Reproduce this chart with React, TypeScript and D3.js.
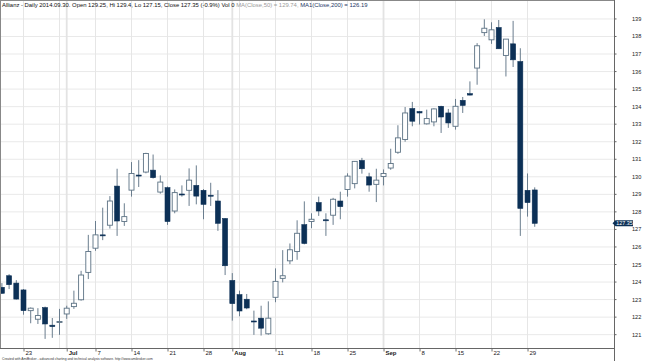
import React from 'react';
import * as d3 from 'd3';

const juneDays = [18, 19, 20, 23, 24, 25, 26, 27, 30];
const julyDays = [1, 2, 3, 4, 7, 8, 9, 10, 11, 14, 15, 16, 17, 18, 21, 22, 23, 24, 25, 28, 29, 30, 31];
const augDays = [1, 4, 5, 6, 7, 8, 11, 12, 13, 14, 15, 18, 19, 20, 21, 22, 25, 26, 27, 28, 29];
const sepDays = [1, 2, 3, 4, 5, 8, 9, 10, 11, 12, 15, 16, 17, 18, 19, 22, 23, 24, 25, 26, 29, 30];

const opens = [
  123.70, 124.36, 123.94, 123.55, 122.37, 121.88, 122.54, 121.54, 121.73, 122.18,
  122.60, 122.99, 124.55, 125.93, 126.69, 127.24, 129.47, 127.45, 129.24, 130.10,
  130.27, 130.38, 129.13, 129.38, 128.05, 129.02, 129.23, 129.51, 129.23, 128.95,
  128.62, 127.62, 124.09, 123.28, 123.02, 121.78, 121.94, 121.05, 123.13, 124.21,
  125.21, 125.74, 127.27, 127.45, 128.53, 127.55, 127.81, 128.62, 129.28, 129.61,
  130.93, 130.00, 129.57, 130.02, 130.50, 131.40, 132.13, 133.89, 133.72, 133.02,
  133.13, 134.02, 133.64, 132.88, 134.36, 134.74, 136.20, 138.22, 137.81, 138.51,
  136.92, 137.58, 136.57, 129.23, 129.25,
];
const highs = [
  123.94, 124.45, 124.11, 123.60, 122.55, 122.51, 122.60, 121.95, 122.47, 122.65,
  123.51, 124.64, 126.69, 127.48, 128.24, 128.90, 130.46, 128.49, 130.84, 130.95,
  131.37, 131.27, 130.08, 129.45, 129.28, 129.51, 130.48, 130.65, 129.30, 129.66,
  129.24, 127.65, 124.51, 123.51, 123.32, 122.37, 122.65, 122.90, 124.78, 125.82,
  126.20, 127.52, 128.60, 127.92, 128.87, 127.92, 128.80, 129.15, 130.20, 130.90,
  131.08, 130.23, 130.46, 130.42, 131.60, 132.94, 133.98, 134.27, 133.75, 133.83,
  133.90, 134.05, 133.87, 134.44, 134.55, 135.44, 137.62, 138.98, 138.81, 138.94,
  137.85, 138.89, 137.33, 130.19, 129.40,
];
const lows = [
  123.32, 123.60, 123.00, 122.14, 121.65, 121.61, 120.76, 120.82, 120.99, 121.90,
  122.47, 122.94, 124.17, 125.78, 126.39, 127.05, 126.63, 127.20, 128.87, 129.42,
  130.20, 129.90, 129.04, 127.26, 127.92, 128.87, 128.34, 128.43, 127.58, 128.34,
  126.92, 124.40, 121.80, 122.05, 122.45, 120.99, 120.95, 121.00, 122.85, 123.98,
  125.02, 125.27, 126.15, 127.07, 127.77, 126.63, 127.26, 127.58, 128.87, 129.34,
  130.18, 129.15, 128.56, 129.51, 130.40, 131.31, 132.00, 132.88, 132.98, 132.98,
  132.88, 132.50, 132.79, 132.69, 133.64, 134.64, 135.25, 138.03, 137.58, 137.30,
  135.72, 136.26, 126.63, 127.73, 127.15,
];
const closes = [
  123.36, 123.85, 123.03, 122.37, 122.51, 122.09, 121.61, 121.46, 121.75, 122.51,
  122.79, 124.40, 125.74, 126.69, 126.65, 128.62, 127.48, 127.73, 130.19, 130.06,
  131.33, 129.95, 129.70, 127.45, 129.10, 128.98, 129.81, 128.90, 128.43, 128.93,
  127.35, 124.93, 122.77, 122.35, 122.52, 121.76, 121.37, 121.94, 124.04, 124.36,
  125.84, 126.78, 126.20, 127.58, 128.05, 127.53, 128.72, 128.30, 130.04, 130.88,
  130.46, 129.53, 129.81, 130.19, 130.76, 132.22, 133.64, 133.17, 133.64, 133.32,
  133.87, 133.41, 133.07, 134.02, 134.07, 134.66, 137.47, 138.47, 138.38, 137.30,
  137.85, 136.67, 128.20, 128.53, 127.35,
];

const priceTicks = [121, 122, 123, 124, 125, 126, 127, 128, 129, 130, 131, 132, 133, 134, 135, 136, 137, 138, 139];
const dateLabels: [string, string, boolean][] = [
  ['2014-06-23', '23', false],
  ['2014-07-01', 'Jul', true],
  ['2014-07-07', '7', false],
  ['2014-07-14', '14', false],
  ['2014-07-21', '21', false],
  ['2014-07-28', '28', false],
  ['2014-08-01', 'Aug', true],
  ['2014-08-11', '11', false],
  ['2014-08-18', '18', false],
  ['2014-08-25', '25', false],
  ['2014-09-01', 'Sep', true],
  ['2014-09-08', '8', false],
  ['2014-09-15', '15', false],
  ['2014-09-22', '22', false],
  ['2014-09-29', '29', false],
];
const lastPrice = 127.35;
const titleMain = 'Allianz - Daily 2014.09.30. Open 129.25, Hi 129.4, Lo 127.15, Close 127.35 (-0.9%) Vol 0 ';
const titleMA50 = 'MA(Close,50) = 129.74, ';
const titleMA200 = 'MA1(Close,200) = 126.19';
const footer = 'Created with AmiBroker - advanced charting and technical analysis software. http://www.amibroker.com';

const pad = (n: number) => (n < 10 ? '0' + n : '' + n);
const dates: string[] = [
  ...juneDays.map((d) => `2014-06-${pad(d)}`),
  ...julyDays.map((d) => `2014-07-${pad(d)}`),
  ...augDays.map((d) => `2014-08-${pad(d)}`),
  ...sepDays.map((d) => `2014-09-${pad(d)}`),
];

const W = 645;
const H = 361;
const PR = 614; // plot right
const PB = 348; // plot bottom
const FONT = '"Liberation Sans", Arial, sans-serif';
const DARK = '#0c3056';
const WICK = '#6a7d8e';
const OUTLINE = '#5c7284';

export default function App() {
  const x = d3.scaleLinear().domain([-0.264, 85.01]).range([0, PR]);
  const y = d3.scaleLinear().domain([120.24, 140.08]).range([PB, 0]);
  const parse = d3.timeParse('%Y-%m-%d');
  const parsed = dates.map((d) => parse(d) as Date);

  const weekLines: number[] = [];
  const monthLines: number[] = [];
  parsed.forEach((d, i) => {
    if (i > 0 && d.getMonth() !== parsed[i - 1].getMonth()) monthLines.push(i);
    else if (d.getDay() === 1) weekLines.push(i);
  });
  const bw = 5;

  return (
    <svg width={W} height={H} style={{ position: 'absolute', left: 0, top: 0, background: '#fff' }} fontFamily={FONT}>
      <rect x={0} y={0} width={W} height={H} fill="#fff" />
      {priceTicks.map((p) => (
        <line key={'h' + p} x1={0} x2={PR} y1={y(p)} y2={y(p)} stroke="#e9e9e9" strokeWidth={1} />
      ))}
      {weekLines.map((i) => (
        <line key={'w' + i} x1={x(i)} x2={x(i)} y1={0} y2={PB} stroke="#e6e6e6" strokeWidth={1} />
      ))}
      {monthLines.map((i) => (
        <line key={'m' + i} x1={x(i)} x2={x(i)} y1={0} y2={PB} stroke="#e3e3e3" strokeWidth={1.8} />
      ))}
      <g>
        {dates.map((d, i) => {
          const o = opens[i], c = closes[i], h = highs[i], l = lows[i];
          const up = c >= o;
          const top = y(Math.max(o, c));
          const bh = Math.max(1, y(Math.min(o, c)) - top);
          const cx = x(i);
          return (
            <g key={d}>
              <line x1={cx} x2={cx} y1={y(h)} y2={y(l)} stroke={WICK} strokeWidth={1} />
              {up ? (
                <rect x={cx - bw / 2} y={top} width={bw} height={bh} fill="#fff" stroke={OUTLINE} strokeWidth={0.9} />
              ) : (
                <rect x={cx - bw / 2} y={top} width={bw} height={bh} fill={DARK} stroke={DARK} strokeWidth={0.6} />
              )}
            </g>
          );
        })}
      </g>
      <line x1={0.5} x2={0.5} y1={0} y2={PB} stroke="#888" strokeWidth={1} />
      <line x1={0} x2={PR} y1={0.5} y2={0.5} stroke="#888" strokeWidth={1} />
      <line x1={0} x2={PR} y1={PB + 0.5} y2={PB + 0.5} stroke="#666" strokeWidth={1} />
      <line x1={PR + 0.5} x2={PR + 0.5} y1={0} y2={H} stroke="#666" strokeWidth={1} />
      {priceTicks.map((p) => (
        <g key={'t' + p}>
          <line x1={PR} x2={PR + 2.5} y1={y(p)} y2={y(p)} stroke="#666" strokeWidth={1} />
          <text x={632} y={y(p) + 2} fontSize={5.6} fill="#222">{p}</text>
        </g>
      ))}
      <path
        d={`M${PR - 1.5},${y(lastPrice)} L${PR + 1.5},${y(lastPrice) - 3} H${633} V${y(lastPrice) + 3} H${PR + 1.5} Z`}
        fill={DARK}
      />
      <text x={624.5} y={y(lastPrice) + 2} fontSize={5.4} fill="#fff" textAnchor="middle">{lastPrice.toFixed(2)}</text>
      {dateLabels.map(([d, t, b]) => {
        const i = dates.indexOf(d);
        const cx = x(i);
        return (
          <g key={'d' + d}>
            <line x1={cx + 0.5} x2={cx + 0.5} y1={PB + 1} y2={PB + 3.5} stroke="#333" strokeWidth={0.7} />
            <text x={cx + 2} y={354.5} fontSize={6} fontWeight={b ? 'bold' : 'normal'} fill="#222">{t}</text>
          </g>
        );
      })}
      <text x={2} y={6.8} fontSize={5.9} fill="#111">
        <tspan>{titleMain}</tspan>
        <tspan fill="#9a9a9a">{titleMA50}</tspan>
        <tspan fill="#1c3766">{titleMA200}</tspan>
      </text>
      <text x={2} y={359.5} fontSize={3.3} fill="#333">{footer}</text>
    </svg>
  );
}
